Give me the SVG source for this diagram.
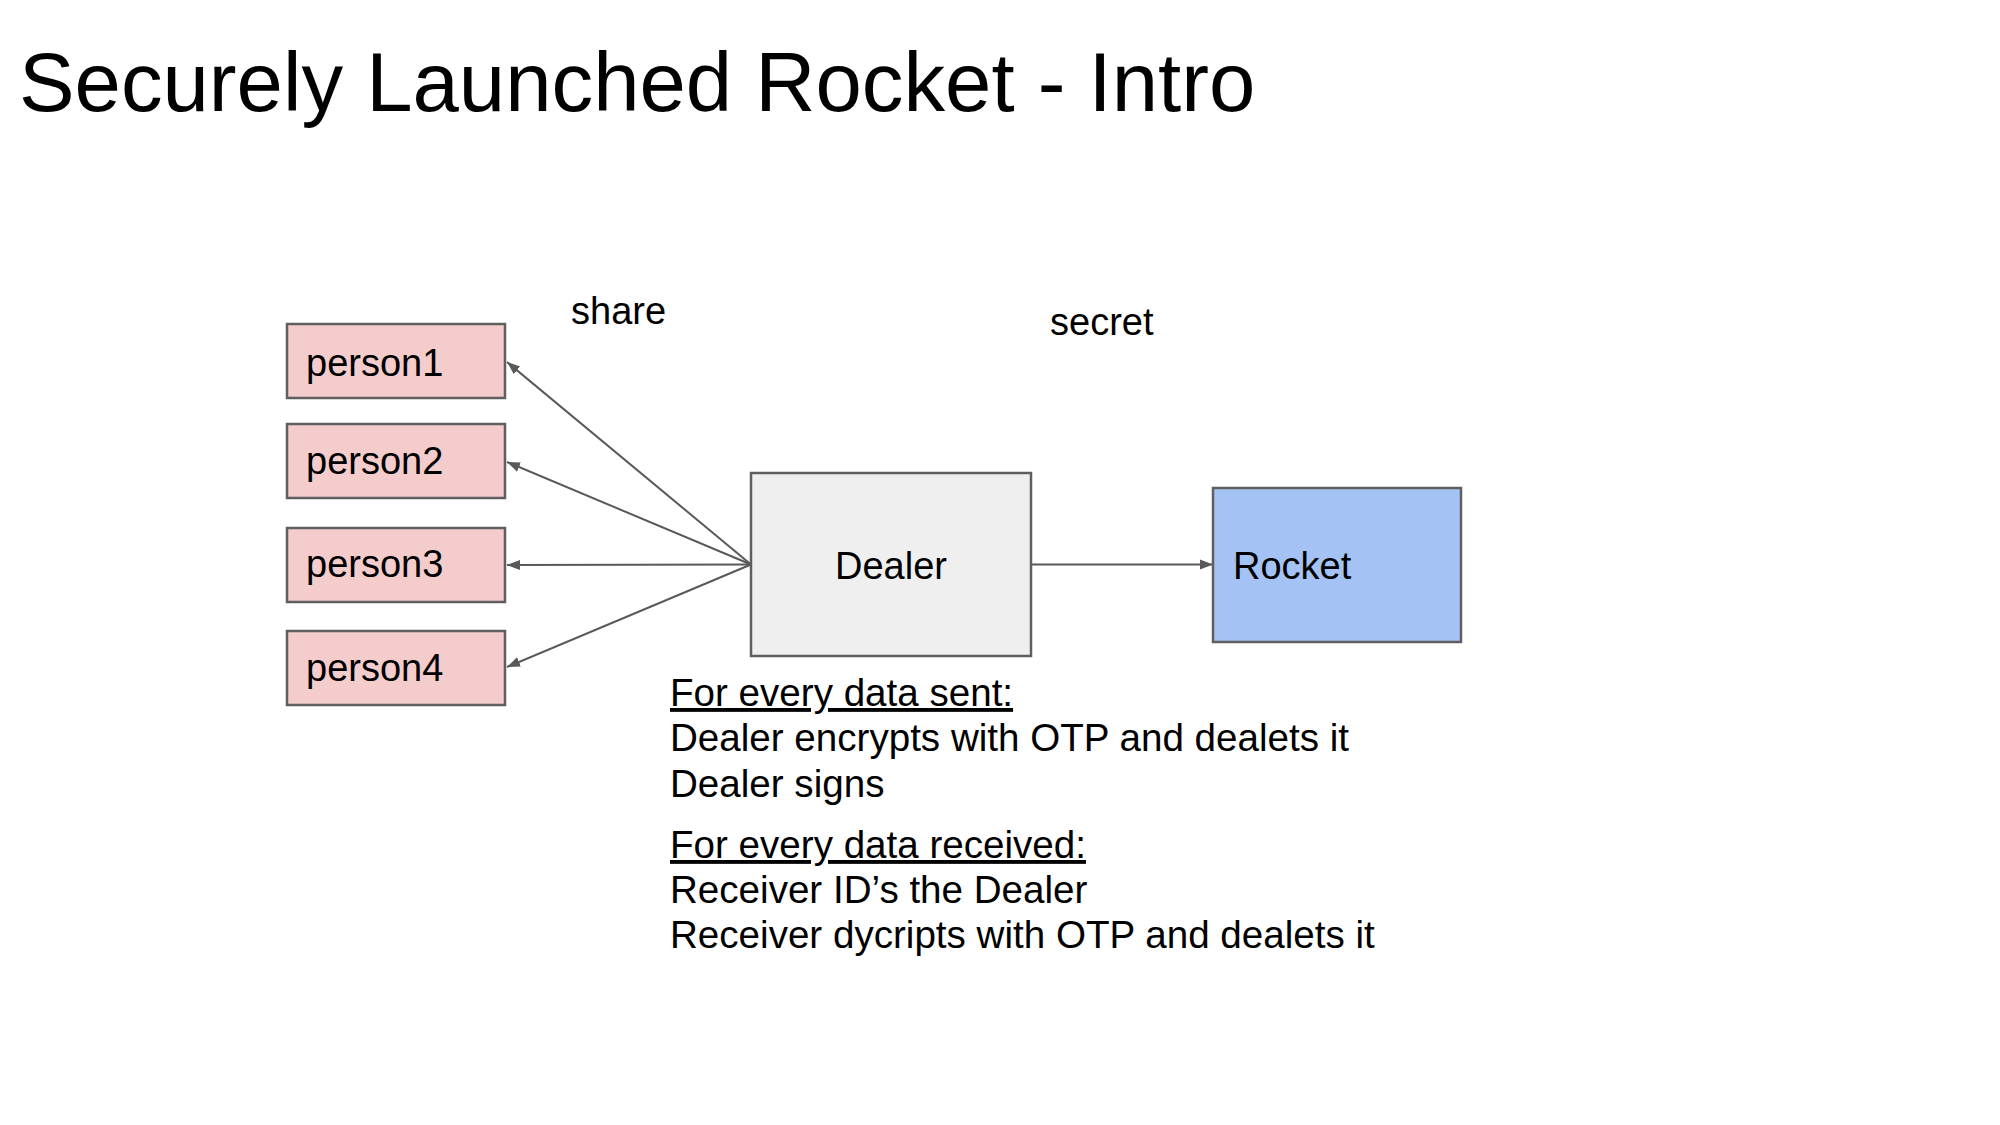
<svg xmlns="http://www.w3.org/2000/svg" width="2000" height="1125" viewBox="0 0 2000 1125">
<defs>
<style>
text { font-family: "Liberation Sans", Arial, sans-serif; fill: #000; }
.title { font-size: 83.3px; }
.lbl { font-size: 38px; }
.note { font-size: 38.6px; }
.box { stroke: #5f5f5f; stroke-width: 2.5; }
.person { fill: #f4cccc; }
.dealer { fill: #efefef; }
.rocket { fill: #a4c2f4; }
.conn { stroke: #595959; stroke-width: 2; fill: none; marker-end: url(#arrow); }
.ul { text-decoration: underline; }
</style>
<marker id="arrow" markerUnits="userSpaceOnUse" markerWidth="14" markerHeight="12" refX="13" refY="5" orient="auto" viewBox="0 0 14 10">
<path d="M0,0 L13,5 L0,10 Z" fill="#595959"/>
</marker>
</defs>
<rect width="2000" height="1125" fill="#ffffff"/>
<text class="title" x="19" y="111">Securely Launched Rocket - Intro</text>

<g id="connectors">
<line class="conn" x1="751" y1="564.5" x2="507" y2="362"/>
<line class="conn" x1="751" y1="564.5" x2="507" y2="462"/>
<line class="conn" x1="751" y1="564.5" x2="507" y2="565"/>
<line class="conn" x1="751" y1="564.5" x2="507" y2="667"/>
<line class="conn" x1="1031" y1="564.5" x2="1213" y2="564.5"/>
</g>

<g id="person1">
<rect class="box person" x="287" y="324" width="218" height="74"/>
<text class="lbl" x="306" y="376">person1</text>
</g>
<g id="person2">
<rect class="box person" x="287" y="424" width="218" height="74"/>
<text class="lbl" x="306" y="474">person2</text>
</g>
<g id="person3">
<rect class="box person" x="287" y="528" width="218" height="74"/>
<text class="lbl" x="306" y="577">person3</text>
</g>
<g id="person4">
<rect class="box person" x="287" y="631" width="218" height="74"/>
<text class="lbl" x="306" y="681">person4</text>
</g>
<g id="dealer">
<rect class="box dealer" x="751" y="473" width="280" height="183"/>
<text class="lbl" x="891" y="579" text-anchor="middle">Dealer</text>
</g>
<g id="rocket">
<rect class="box rocket" x="1213" y="488" width="248" height="154"/>
<text class="lbl" x="1233" y="579">Rocket</text>
</g>

<g id="labels">
<text class="lbl" x="571" y="324">share</text>
<text class="lbl" x="1050" y="335">secret</text>
</g>

<g id="notes">
<text class="note ul" x="670" y="706">For every data sent:</text>
<text class="note" x="670" y="751">Dealer encrypts with OTP and dealets it</text>
<text class="note" x="670" y="797">Dealer signs</text>
<text class="note ul" x="670" y="858">For every data received:</text>
<text class="note" x="670" y="903">Receiver ID’s the Dealer</text>
<text class="note" x="670" y="948">Receiver dycripts with OTP and dealets it</text>
</g>
</svg>
